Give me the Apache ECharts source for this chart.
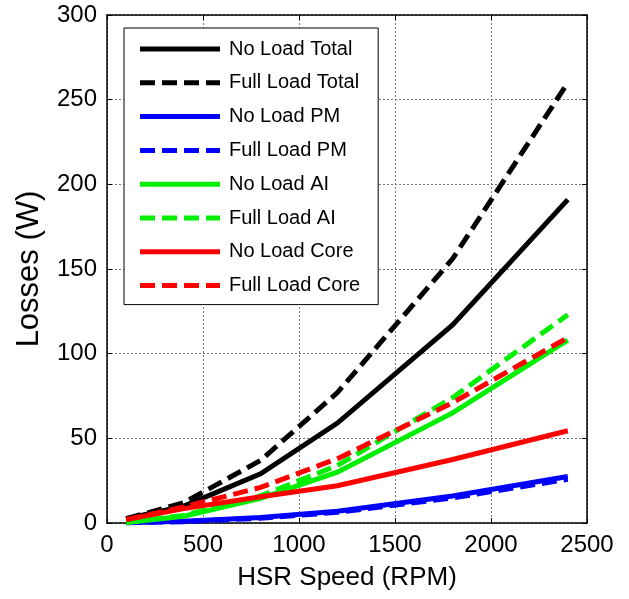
<!DOCTYPE html>
<html>
<head>
<meta charset="utf-8">
<script src="https://cdn.jsdelivr.net/npm/echarts@6/dist/echarts.min.js"></script>
<style>
html,body{margin:0;padding:0;background:#fff;}
#chart{width:629px;height:599px;}
</style>
</head>
<body>
<div id="chart"></div>
<script>
// Data
var speed = [100, 400, 800, 1200, 1800, 2400];
var noLoadTotal  = [2.5, 10, 29, 59, 117, 191];
var fullLoadTotal = [2.5, 12, 37, 77, 156, 260];
var noLoadPM     = [0.2, 1, 3.2, 7, 16, 27.5];
var fullLoadPM   = [0.2, 0.8, 2.8, 6.3, 14.8, 25.8];
var noLoadAI     = [0.3, 4, 14.5, 30, 65, 108];
var fullLoadAI   = [0.3, 4.5, 16, 34, 74, 123];
var noLoadCore   = [2, 8.5, 15.5, 22, 37.5, 54.5];
var fullLoadCore = [2, 9.5, 21, 38, 71, 109.5];

var seriesNames = ['No Load Total','Full Load Total','No Load PM','Full Load PM','No Load AI','Full Load AI','No Load Core','Full Load Core'];
var seriesData = [noLoadTotal, fullLoadTotal, noLoadPM, fullLoadPM, noLoadAI, fullLoadAI, noLoadCore, fullLoadCore];
var colors = ['#000000','#000000','#0000ff','#0000ff','#00ee00','#00ee00','#ff0000','#ff0000'];
var dashed = [false,true,false,true,false,true,false,true];

var xTicks = [0, 500, 1000, 1500, 2000, 2500];
var yTicks = [0, 50, 100, 150, 200, 250, 300];

var FONT = "'Liberation Sans', Arial, sans-serif";

var SOLID_ICON = 'path://M0,0h80v5h-80z';
var DASH_ICON = 'path://M0,0h15v5h-15z M22,0h15v5h-15z M44,0h15v5h-15z M66,0h14v5h-14z';

function pairs(xs, ys){ return xs.map(function(x,i){ return [x, ys[i]]; }); }

var series = seriesNames.map(function(name, i){
  return {
    name: name,
    type: 'line',
    xAxisIndex: 0, yAxisIndex: 0,
    data: pairs(speed, seriesData[i]),
    symbol: 'none',
    showSymbol: false,
    smooth: false,
    animation: false,
    lineStyle: { color: colors[i], width: 5, type: dashed[i] ? [15, 7] : 'solid', cap: 'butt', join: 'miter' },
    itemStyle: { color: colors[i] },
    z: 2 + i
  };
});

var legendData = seriesNames.map(function(name, i){
  return { name: name, icon: dashed[i] ? DASH_ICON : SOLID_ICON, itemStyle: { color: colors[i] } };
});

var chart = echarts.init(document.getElementById('chart'), null, {renderer: 'canvas'});
chart.setOption({
  backgroundColor: '#ffffff',
  animation: false,
  grid: { left: 107, right: 42, top: 15, bottom: 76, containLabel: false },
  legend: {
    orient: 'vertical',
    left: 124, top: 28,
    padding: [11, 18, 9, 16],
    backgroundColor: '#ffffff',
    borderColor: '#000000',
    borderWidth: 1,
    itemWidth: 80,
    itemHeight: 5,
    itemGap: 13.8,
    symbolKeepAspect: true,
    data: legendData,
    textStyle: { fontFamily: FONT, fontSize: 20, color: '#000', lineHeight: 20, padding: [0,0,0,4] },
    selectedMode: false,
    z: 20
  },
  xAxis: [{
    type: 'value', min: 0, max: 2500, interval: 500, position: 'bottom',
    name: 'HSR Speed (RPM)', nameLocation: 'middle', nameGap: 42,
    nameTextStyle: { fontFamily: FONT, fontSize: 26, color: '#000' },
    axisLine: { show: true, onZero: false, lineStyle: { color: '#000', width: 1.5 } },
    axisTick: { show: true, inside: true, length: 5, lineStyle: { color: '#000' } },
    axisLabel: { fontFamily: FONT, fontSize: 24, color: '#000', margin: 10, formatter: function(v){ return String(v); } },
    splitLine: { show: true, lineStyle: { color: '#777', width: 1, type: [2, 2] } }
  }, {
    type: 'value', min: 0, max: 2500, interval: 500, position: 'top',
    axisLine: { show: true, onZero: false, lineStyle: { color: '#000', width: 1.5 } },
    axisTick: { show: true, inside: true, length: 5, lineStyle: { color: '#000' } },
    axisLabel: { show: false },
    splitLine: { show: false }
  }],
  yAxis: [{
    type: 'value', min: 0, max: 300, interval: 50, position: 'left',
    name: 'Losses (W)', nameLocation: 'middle', nameGap: 62,
    nameTextStyle: { fontFamily: FONT, fontSize: 31, color: '#000' },
    axisLine: { show: true, onZero: false, lineStyle: { color: '#000', width: 1.5 } },
    axisTick: { show: true, inside: true, length: 5, lineStyle: { color: '#000' } },
    axisLabel: { fontFamily: FONT, fontSize: 24, color: '#000', margin: 10, formatter: function(v){ return String(v); } },
    splitLine: { show: true, lineStyle: { color: '#777', width: 1, type: [2, 2] } }
  }, {
    type: 'value', min: 0, max: 300, interval: 50, position: 'right',
    axisLine: { show: true, onZero: false, lineStyle: { color: '#000', width: 1.5 } },
    axisTick: { show: true, inside: true, length: 5, lineStyle: { color: '#000' } },
    axisLabel: { show: false },
    splitLine: { show: false }
  }],
  series: series
});
</script>
</body>
</html>
